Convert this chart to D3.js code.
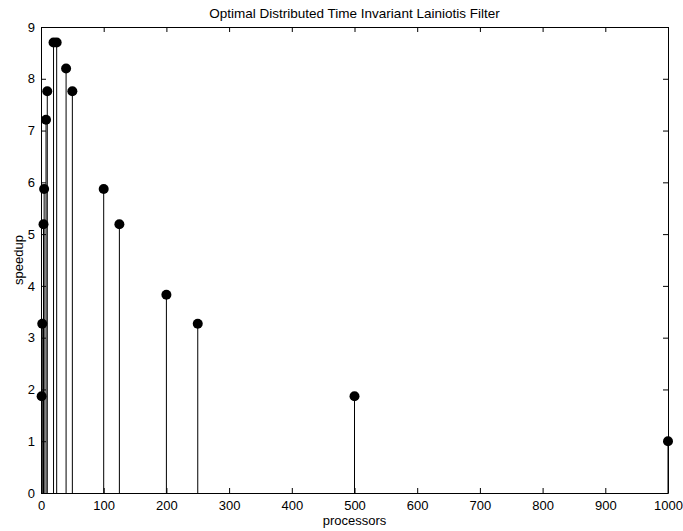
<!DOCTYPE html>
<meta charset="utf-8">
<style>
    body { margin: 0; background: #fff; }
    .axis text { font: 13px "Liberation Sans", Arial, sans-serif; fill: #000; }
    .axis path, .axis line { stroke: #000; }
    .stem { stroke: #000; stroke-width: 1px; }
    .label { font: 13px "Liberation Sans", Arial, sans-serif; }
    .title { font: 13.5px "Liberation Sans", Arial, sans-serif; }
</style>
<body>
<script src="https://d3js.org/d3.v7.min.js"></script>
<script>
    // data
    var processors = [1, 2, 4, 5, 8, 10, 20, 25, 40, 50, 100, 125, 200, 250, 500, 1000];
    var speedup = [1.87, 3.27, 5.19, 5.87, 7.21, 7.76, 8.7, 8.7, 8.2, 7.76, 5.87, 5.19, 3.83, 3.27, 1.87, 1.0];
    var xTicks = [0, 100, 200, 300, 400, 500, 600, 700, 800, 900, 1000];
    var yTicks = [0, 1, 2, 3, 4, 5, 6, 7, 8, 9];

    // plot area
    var margin = {top: 27, right: 15, bottom: 38, left: 41},
        width = 683 - margin.left - margin.right,
        height = 531 - margin.top - margin.bottom;

    var x = d3.scaleLinear().domain([0, 1000]).range([0, width]);
    var y = d3.scaleLinear().domain([0, 9]).range([height, 0]);

    var svg = d3.select("body").append("svg")
        .attr("width", 683)
        .attr("height", 531)
      .append("g")
        .attr("transform", "translate(" + margin.left + "," + margin.top + ")");

    // axes, ticks point inward
    svg.append("g")
        .attr("class", "axis")
        .attr("transform", "translate(0," + height + ")")
        .call(d3.axisBottom(x).tickValues(xTicks).tickSizeInner(-5).tickSizeOuter(0)
            .tickPadding(8).tickFormat(d3.format("d")));
    svg.append("g")
        .attr("class", "axis")
        .call(d3.axisTop(x).tickValues(xTicks).tickSizeInner(-5).tickSizeOuter(0).tickFormat(""));
    svg.append("g")
        .attr("class", "axis")
        .call(d3.axisLeft(y).tickValues(yTicks).tickSizeInner(-5).tickSizeOuter(0).tickPadding(6));
    svg.append("g")
        .attr("class", "axis")
        .attr("transform", "translate(" + width + ",0)")
        .call(d3.axisRight(y).tickValues(yTicks).tickSizeInner(-5).tickSizeOuter(0).tickFormat(""));

    var pts = processors.map(function(p, i) { return {p: p, s: speedup[i]}; });

    // stems
    svg.selectAll(".stem")
        .data(pts)
        .enter().append("line")
        .attr("class", "stem")
        .attr("x1", function(d) { return x(d.p); })
        .attr("x2", function(d) { return x(d.p); })
        .attr("y1", y(0))
        .attr("y2", function(d) { return y(d.s); });

    // markers
    svg.selectAll(".dot")
        .data(pts)
        .enter().append("circle")
        .attr("class", "dot")
        .attr("cx", function(d) { return x(d.p); })
        .attr("cy", function(d) { return y(d.s); })
        .attr("r", 5)
        .attr("fill", "#000");

    // title and axis labels
    svg.append("text")
        .attr("class", "title")
        .attr("x", width / 2)
        .attr("y", -9)
        .style("text-anchor", "middle")
        .text("Optimal Distributed Time Invariant Lainiotis Filter");

    svg.append("text")
        .attr("class", "label")
        .attr("x", width / 2)
        .attr("y", height + 32)
        .style("text-anchor", "middle")
        .text("processors");

    svg.append("text")
        .attr("class", "label")
        .attr("transform", "rotate(-90)")
        .attr("x", -height / 2)
        .attr("y", -18)
        .style("text-anchor", "middle")
        .text("speedup");
</script>
</body>
